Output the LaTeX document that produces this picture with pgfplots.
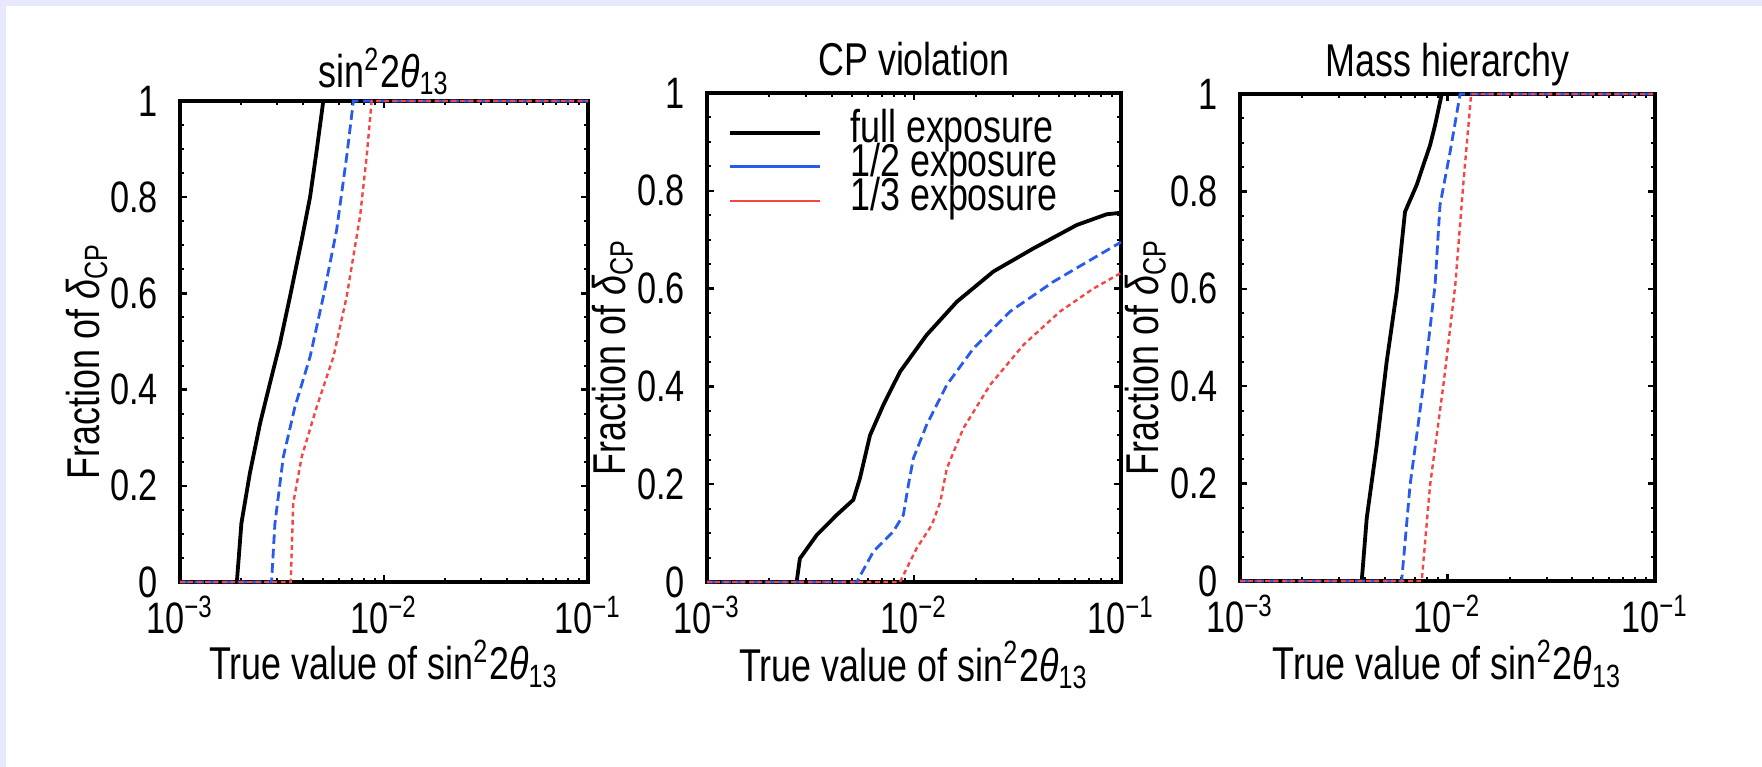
\documentclass[border=0pt]{standalone}
\usepackage{fontspec}
\setmainfont[FakeStretch=0.78]{Liberation Sans}
\usepackage{pgfplots}
\pgfplotsset{compat=1.18}
\definecolor{lav}{RGB}{232,232,252}
\definecolor{cblue}{RGB}{40,90,235}
\definecolor{cred}{RGB}{245,70,70}
\newcommand{\fs}{\fontsize{11.5}{12}\selectfont}
\newcommand{\ft}{\fontsize{11}{12}\selectfont}
\pgfplotsset{
  /pgfplots/mypanel/.style={
    scale only axis, anchor=south west,
    xmin=1e-3, xmax=1e-1, ymin=0, ymax=1,
    xtick={1e-3,1e-2,1e-1},
    xticklabels={10\textsuperscript{−3},10\textsuperscript{−2},10\textsuperscript{−1}},
    ytick={0,0.2,0.4,0.6,0.8,1},
    yticklabels={0,0.2,0.4,0.6,0.8,1},
    minor y tick num=3,
    tick align=inside,
    major tick length=1.8pt, minor tick length=1.1pt,
    axis line style={line width=0.9pt},
    every tick/.style={black, line width=0.6pt},
    every minor tick/.style={black, line width=0.5pt},
    clip=false,
    every axis title shift=0pt,
    tick label style={font=\ft},
    yticklabel style={xshift=-2pt},
    label style={font=\fs},
    title style={font=\fs, at={(axis description cs:0.5,1)}, anchor=base, yshift=4.3pt},
    xlabel={True value of sin\textsuperscript{2}2\textit{θ}\textsubscript{13}},
    ylabel={Fraction of \textit{δ}\textsubscript{CP}},
    xlabel style={at={(axis description cs:0.5,-0.17)}, anchor=center},
    ylabel style={at={(axis description cs:-0.228,0.46)}, anchor=center},
  },
  /pgfplots/blk/.style={black, line width=0.95pt},
  /pgfplots/blu/.style={cblue, line width=0.7pt, dash pattern=on 2.4pt off 1.2pt},
  /pgfplots/rd/.style={cred, line width=0.6pt, dash pattern=on 1.2pt off 0.9pt},
}
\begin{document}
\begin{tikzpicture}
\useasboundingbox (0,0) rectangle (440.5pt,191.75pt);
\fill[lav] (0,0) rectangle (440.5pt,191.75pt);
\fill[white] (1.5pt,0) rectangle (440.5pt,190.25pt);

% Panel 1
\begin{semilogxaxis}[mypanel, at={(45pt,46.25pt)}, width=102pt, height=120.25pt,
  title={sin\textsuperscript{2}2\textit{θ}\textsubscript{13}},
  title style={yshift=-1.0pt}]
\addplot[blk] coordinates {(1e-3,0) (1.9e-3,0) (2.0e-3,0.122) (2.2e-3,0.226) (2.47e-3,0.33) (2.76e-3,0.413) (3.09e-3,0.496) (3.46e-3,0.593) (3.95e-3,0.711) (4.34e-3,0.80) (4.68e-3,0.898) (5.04e-3,1.0) (1e-1,1)};
\addplot[blu] coordinates {(1e-3,0) (2.81e-3,0) (2.92e-3,0.122) (3.21e-3,0.26) (3.66e-3,0.364) (4.34e-3,0.468) (5.04e-3,0.593) (5.86e-3,0.732) (6.56e-3,0.884) (7.08e-3,1) (1e-1,1)};
\addplot[rd] coordinates {(1e-3,0) (3.49e-3,0) (3.59e-3,0.164) (3.95e-3,0.26) (4.68e-3,0.364) (5.65e-3,0.468) (6.56e-3,0.593) (7.63e-3,0.76) (8.22e-3,0.884) (8.7e-3,1) (1e-1,1)};
\end{semilogxaxis}

% Panel 2
\begin{semilogxaxis}[mypanel, at={(176.75pt,46.25pt)}, width=103.5pt, height=122.25pt,
  title={CP violation},
  legend style={at={(axis description cs:0.05,0.955)}, anchor=north west, draw=none, fill=none, inner sep=0pt, row sep=0pt, column sep=7pt, font=\fs,
    nodes={inner ysep=0pt, inner xsep=0pt, text height=6.8pt, text depth=1.7pt, anchor=west}},
  legend cell align=left,
  legend image code/.code={\draw[#1, solid] (0pt,0pt) -- (22.5pt,0pt);}]
\addplot[blk] coordinates {(1e-3,0) (2.71e-3,0) (2.81e-3,0.048) (3.39e-3,0.096) (4.23e-3,0.137) (5.09e-3,0.168) (5.48e-3,0.212) (6.13e-3,0.30) (7.11e-3,0.362) (8.56e-3,0.43) (1.15e-2,0.505) (1.61e-2,0.573) (2.42e-2,0.635) (3.77e-2,0.682) (6.11e-2,0.73) (8.53e-2,0.752) (1e-1,0.755)};
\addlegendentry{full exposure}
\addplot[blu] coordinates {(1e-3,0) (5.29e-3,0) (6.36e-3,0.062) (7.94e-3,0.103) (8.88e-3,0.137) (9.39e-3,0.198) (9.93e-3,0.253) (1.15e-2,0.321) (1.44e-2,0.403) (1.94e-2,0.478) (2.91e-2,0.553) (4.71e-2,0.614) (7.35e-2,0.662) (1e-1,0.695)};
\addlegendentry{1/2 exposure}
\addplot[rd] coordinates {(1e-3,0) (8.56e-3,0) (1.03e-2,0.069) (1.22e-2,0.117) (1.34e-2,0.164) (1.44e-2,0.232) (1.73e-2,0.314) (2.33e-2,0.403) (3.38e-2,0.485) (5.07e-2,0.553) (7.35e-2,0.60) (1e-1,0.632)};
\addlegendentry{1/3 exposure}
\end{semilogxaxis}

% Panel 3
\begin{semilogxaxis}[mypanel, at={(310pt,46.5pt)}, width=103.75pt, height=121.75pt,
  title={Mass hierarchy}]
\addplot[blk] coordinates {(1e-3,0) (3.86e-3,0) (4.08e-3,0.129) (4.56e-3,0.279) (5.09e-3,0.45) (5.69e-3,0.594) (6.24e-3,0.758) (7.1e-3,0.813) (8.24e-3,0.895) (8.71e-3,0.936) (9.38e-3,1) (1e-1,1)};
\addplot[blu] coordinates {(1e-3,0) (6.01e-3,0) (6.6e-3,0.197) (7.65e-3,0.402) (8.71e-3,0.608) (9.2e-3,0.772) (1.03e-2,0.882) (1.15e-2,1) (1e-1,1)};
\addplot[rd] coordinates {(1e-3,0) (7.51e-3,0) (8.24e-3,0.197) (9.55e-3,0.402) (1.09e-2,0.608) (1.19e-2,0.813) (1.3e-2,1) (1e-1,1)};
\end{semilogxaxis}
\end{tikzpicture}
\end{document}
